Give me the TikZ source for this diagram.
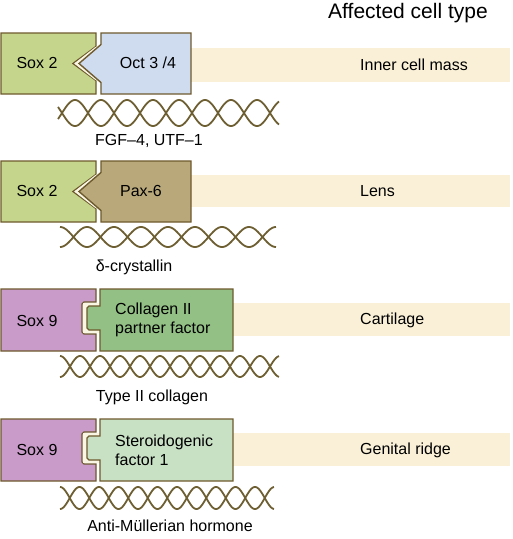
\documentclass[tikz,border=0pt]{standalone}
\usepackage{fontspec}
\setmainfont{Liberation Sans}
\definecolor{soxtwo}{RGB}{197,214,140}
\definecolor{octc}{RGB}{207,220,240}
\definecolor{paxc}{RGB}{184,168,122}
\definecolor{soxnine}{RGB}{200,155,200}
\definecolor{collc}{RGB}{147,192,132}
\definecolor{sterc}{RGB}{200,224,196}
\definecolor{bandc}{RGB}{249,240,215}
\definecolor{gapc}{RGB}{250,246,228}
\definecolor{edgec}{RGB}{110,90,45}
\definecolor{helixc}{RGB}{110,95,50}
\tikzset{
  boxline/.style={draw=edgec, line width=1.4pt, line join=miter},
  band/.style={fill=bandc, draw=none},
  helixline/.style={draw=helixc, line width=1.8pt},
  lbl/.style={font=\fontsize{16}{19}\selectfont, inner sep=0pt, text height=12pt, text depth=3.5pt},
  lbltwo/.style={font=\fontsize{16}{19}\selectfont, inner sep=0pt, align=left},
  celllbl/.style={font=\fontsize{16}{19}\selectfont, inner sep=0pt, anchor=west, text height=12pt, text depth=3.5pt},
}
\begin{document}
\begin{tikzpicture}[x=1pt, y=-1pt]
\useasboundingbox (0,0) rectangle (513,539);

% header
\node[font=\fontsize{21}{24}\selectfont, inner sep=0pt] (hdr) at (408,13) {Affected cell type};

% ---------- bands ----------
\fill[band] (191,48) rectangle (510,82);
\fill[band] (191,175) rectangle (510,207);
\fill[band] (233,303) rectangle (510,336);
\fill[band] (233,433) rectangle (510,466);

% ---------- Row 1: Sox 2 / Oct 3/4 ----------
\def\T{33}\def\B{94}\def\C{63.5}
\path[boxline, fill=soxtwo] (1,\T) -- (96,\T) -- (96,\C-17) -- (73,\C) -- (96,\C+17) -- (96,\B) -- (1,\B) -- cycle;
\fill[gapc] (95.3,\C-16.4) -- (74.2,\C) -- (95.3,\C+16.4) -- (101,\C+19) -- (101,\C-19) -- cycle;
\path[boxline, fill=octc] (101,\T) -- (191,\T) -- (191,\B) -- (101,\B) -- (101,\C+19) -- (79,\C) -- (101,\C-19) -- cycle;

% ---------- Row 2: Sox 2 / Pax-6 ----------
\def\T{161}\def\B{222}\def\C{191.5}
\path[boxline, fill=soxtwo] (1,\T) -- (96,\T) -- (96,\C-17) -- (73,\C) -- (96,\C+17) -- (96,\B) -- (1,\B) -- cycle;
\fill[gapc] (95.3,\C-16.4) -- (74.2,\C) -- (95.3,\C+16.4) -- (101,\C+19) -- (101,\C-19) -- cycle;
\path[boxline, fill=paxc] (101,\T) -- (191,\T) -- (191,\B) -- (101,\B) -- (101,\C+19) -- (79,\C) -- (101,\C-19) -- cycle;

% ---------- Row 3: Sox 9 / Collagen II partner factor ----------
\def\T{289}\def\B{351}\def\C{320}
\path[boxline, fill=soxnine] (1,\T) -- (96,\T) -- (96,\C-18) -- (84,\C-18) -- (82,\C-16) -- (82,\C+12) -- (84,\C+14) -- (96,\C+14) -- (96,\B) -- (1,\B) -- cycle;
\fill[gapc] (83,\C-17) rectangle (100,\C+13);
\path[boxline, fill=collc] (100,\T) -- (233,\T) -- (233,\B) -- (100,\B) -- (100,\C+10) -- (89,\C+10) -- (87,\C+8) -- (87,\C-12) -- (89,\C-14) -- (100,\C-14) -- cycle;

% ---------- Row 4: Sox 9 / Steroidogenic factor 1 ----------
\def\T{419}\def\B{481}\def\C{450}
\path[boxline, fill=soxnine] (1,\T) -- (96,\T) -- (96,\C-18) -- (84,\C-18) -- (82,\C-16) -- (82,\C+12) -- (84,\C+14) -- (96,\C+14) -- (96,\B) -- (1,\B) -- cycle;
\fill[gapc] (83,\C-17) rectangle (100,\C+13);
\path[boxline, fill=sterc] (100,\T) -- (233,\T) -- (233,\B) -- (100,\B) -- (100,\C+10) -- (89,\C+10) -- (87,\C+8) -- (87,\C-12) -- (89,\C-14) -- (100,\C-14) -- cycle;

% ---------- helices ----------
\draw[helixline] plot[domain=0:221, samples=300] (\x+58, {113 + 13*sin(6.9231*(\x-4))});
\draw[helixline] plot[domain=0:221, samples=300] (\x+58, {113 - 13*sin(6.9231*(\x-4))});
\draw[helixline] plot[domain=0:216, samples=300] (\x+60, {237 + 10*cos(6.6667*\x)});
\draw[helixline] plot[domain=0:216, samples=300] (\x+60, {237 - 10*cos(6.6667*\x)});
\draw[helixline] plot[domain=0:219, samples=300] (\x+60, {366.5 + 10.5*cos(9*\x)});
\draw[helixline] plot[domain=0:219, samples=300] (\x+60, {366.5 - 10.5*cos(9*\x)});
\draw[helixline] plot[domain=0:214, samples=300] (\x+60, {498 + 11*cos(9.2308*\x)});
\draw[helixline] plot[domain=0:214, samples=300] (\x+60, {498 - 11*cos(9.2308*\x)});

% ---------- box labels ----------
\node[lbl] (s2a) at (37,64) {Sox 2};
\node[lbl] (oct) at (148,64) {Oct 3 /4};
\node[lbl] (s2b) at (37,192) {Sox 2};
\node[lbl] (pax) at (141,192) {Pax-6};
\node[lbl] (s9a) at (37,322) {Sox 9};
\node[lbltwo, anchor=west] (coll) at (115,320) {Collagen II\\partner factor};
\node[lbl] (s9b) at (37,451) {Sox 9};
\node[lbltwo, anchor=west] (ster) at (115,450) {Steroidogenic\\factor 1};

% ---------- gene labels ----------
\node[lbl] (g1) at (149,141) {FGF–4, UTF–1};
\node[lbl] (g2) at (134,267) {δ-crystallin};
\node[lbl] (g3) at (152,397) {Type II collagen};
\node[lbl] (g4) at (170,527) {Anti-Müllerian hormone};

% ---------- cell type labels ----------
\node[celllbl] (c1) at (360,66) {Inner cell mass};
\node[celllbl] (c2) at (360,192) {Lens};
\node[celllbl] (c3) at (360,320) {Cartilage};
\node[celllbl] (c4) at (360,450) {Genital ridge};
\end{tikzpicture}
\end{document}
